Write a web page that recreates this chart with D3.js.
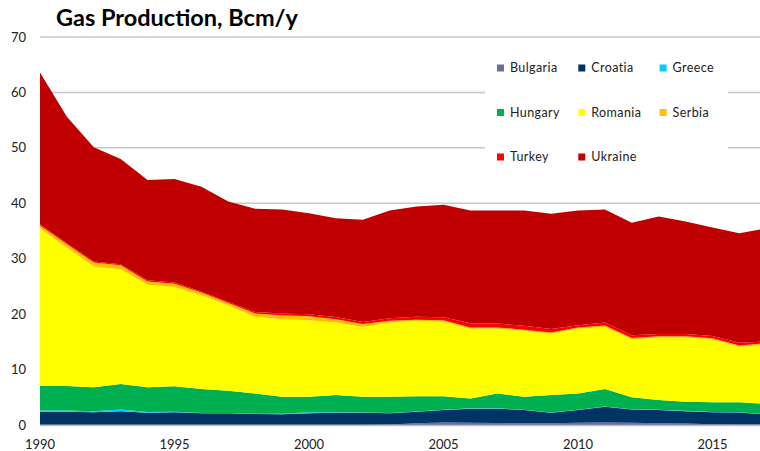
<!DOCTYPE html>
<html lang="en">
<head>
  <meta charset="utf-8">
  <script src="https://cdn.jsdelivr.net/npm/d3@7"></script>
  <style>
    body{margin:0;background:#fff;}
    text{font-family:Lato,"Open Sans",sans-serif;fill:#222;}
  </style>
</head>
<body>
  <div id="chart"></div>
  <script>
    // data, Bcm/y
    var years=d3.range(1990,2018);
    var countries=["Bulgaria","Croatia","Greece","Hungary","Romania","Serbia","Turkey","Ukraine"];
    var colors=["#6e6e9e","#003366","#00ccff","#00b050","#ffff00","#ffc000","#ff0000","#c00000"];

    var bulgaria=[0.05,0.05,0.05,0.05,0.05,0.05,0.05,0.05,0.05,0.05,0.05,0.05,0.05,0.1,0.3,0.45,0.4,0.35,0.3,0.3,0.4,0.45,0.4,0.3,0.25,0.15,0.1,0.1];
    var croatia=[2.35,2.35,2.25,2.45,2.15,2.25,2.05,2.05,1.95,1.9,2.05,2.15,2.15,2.0,2.1,2.25,2.55,2.6,2.4,1.9,2.3,2.85,2.4,2.4,2.25,2.15,2.15,1.8];
    var greece=[0.2,0.2,0.2,0.3,0.15,0.1,0.05,0.05,0.05,0.1,0.2,0.1,0.05,0.05,0.05,0.05,0.05,0.05,0.05,0.05,0.05,0.05,0.05,0.05,0.05,0.05,0.05,0.05];
    var hungary=[4.5,4.45,4.3,4.6,4.45,4.6,4.35,4.05,3.65,3.05,2.8,3.1,2.85,2.95,2.75,2.45,1.8,2.7,2.35,3.15,2.95,3.15,2.15,1.75,1.65,1.75,1.8,1.85];
    var romania=[28.4,24.95,21.8,20.7,18.5,17.9,16.9,15.4,13.8,14.0,13.8,13.1,12.6,13.4,13.6,13.45,12.6,11.7,11.9,11.1,11.7,11.2,10.45,11.3,11.6,11.35,10.0,10.7];
    var serbia=[0.5,0.6,0.7,0.7,0.6,0.6,0.5,0.4,0.6,0.7,0.7,0.6,0.5,0.3,0.2,0.25,0.2,0.2,0.2,0.2,0.2,0.25,0.25,0.2,0.2,0.2,0.25,0.25];
    var turkey=[0.2,0.2,0.2,0.2,0.2,0.2,0.2,0.2,0.3,0.3,0.4,0.4,0.4,0.45,0.55,0.55,0.75,0.7,0.7,0.6,0.4,0.55,0.5,0.4,0.4,0.4,0.5,0.35];
    var ukraine=[27.4,22.8,20.6,19.0,18.1,18.7,18.9,18.1,18.6,18.8,18.2,17.8,18.45,19.45,19.85,20.3,20.35,20.4,20.8,20.8,20.7,20.4,20.3,21.2,20.3,19.6,19.75,20.4];

    var yTicks=[0,10,20,30,40,50,60,70];
    var xTicks=[1990,1995,2000,2005,2010,2015];

    var series=[bulgaria,croatia,greece,hungary,romania,serbia,turkey,ukraine];
    var table=years.map(function(y,i){
      var row={year:y};
      countries.forEach(function(c,k){row[c]=series[k][i];});
      return row;
    });

    var width=760,height=451;

    var svg=d3.select("#chart")
      .append("svg")
      .attr("width",width)
      .attr("height",height);

    var x=d3.scaleLinear().domain([1990,2017]).range([40,766.3]);
    var y=d3.scaleLinear().domain([0,70]).range([425,37]);

    //gridlines
    svg.append("g")
      .selectAll("line")
      .data(yTicks.filter(function(d){return d>0;}))
      .enter()
      .append("line")
      .attr("x1",40)
      .attr("x2",width)
      .attr("y1",function(d){return y(d);})
      .attr("y2",function(d){return y(d);})
      .style("stroke","#c8c8c8")
      .style("stroke-width",1.5);

    //stacked areas
    var stack=d3.stack().keys(countries);
    var area=d3.area()
      .x(function(d){return x(d.data.year);})
      .y0(function(d){return y(d[0]);})
      .y1(function(d){return y(d[1]);});

    svg.append("g")
      .selectAll("path")
      .data(stack(table))
      .enter()
      .append("path")
      .attr("d",area)
      .style("fill",function(d,i){return colors[i];});

    //bottom axis line
    svg.append("line")
      .attr("x1",40)
      .attr("x2",width)
      .attr("y1",425.5)
      .attr("y2",425.5)
      .style("stroke","#bfbfbf")
      .style("stroke-width",1.5);

    //y labels
    svg.append("g")
      .selectAll("text")
      .data(yTicks)
      .enter()
      .append("text")
      .attr("x",26)
      .attr("y",function(d){return y(d);})
      .attr("dy","0.35em")
      .style("text-anchor","end")
      .style("font-size","13px")
      .text(function(d){return d;});

    //x labels
    svg.append("g")
      .selectAll("text")
      .data(xTicks)
      .enter()
      .append("text")
      .attr("x",function(d){return x(d);})
      .attr("y",449)
      .style("text-anchor","middle")
      .style("font-size","13px")
      .text(function(d){return d;});

    //title
    svg.append("text")
      .attr("x",56)
      .attr("y",26)
      .style("font-size","23.5px")
      .style("font-weight","bold")
      .style("fill","#000")
      .text("Gas Production, Bcm/y");

    //legend
    var legend=svg.append("g");
    legend.append("rect")
      .attr("x",485)
      .attr("y",48)
      .attr("width",243)
      .attr("height",135)
      .style("fill","#fff");

    var item=legend.selectAll("g")
      .data(countries)
      .enter()
      .append("g")
      .attr("transform",function(d,i){
        return "translate("+(497+(i%3)*81.3)+","+(68+Math.floor(i/3)*44.5)+")";
      });

    item.append("rect")
      .attr("x",0)
      .attr("y",-3.5)
      .attr("width",7)
      .attr("height",7)
      .style("fill",function(d,i){return colors[i];});

    item.append("text")
      .attr("x",13)
      .attr("dy","0.35em")
      .style("font-size","12.5px")
      .style("letter-spacing","0.4px")
      .text(function(d){return d;});
  </script>
</body>
</html>
